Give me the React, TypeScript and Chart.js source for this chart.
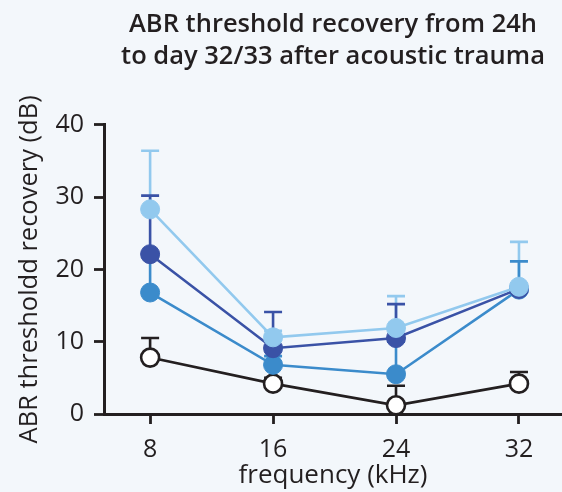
import React, { useEffect, useRef } from "react";
import { Chart, registerables } from "chart.js";

Chart.register(...registerables);

const categories = [8, 16, 24, 32];
const yTicks = [0, 10, 20, 30, 40];

const lightValues = [28.3, 10.6, 11.9, 17.6];
const lightUpper = [36.4, 11.5, 16.3, 23.8];
const darkValues = [22.1, 9.1, 10.5, 17.3];
const darkUpper = [30.2, 14.1, 15.2, 17.8];
const mediumValues = [16.8, 6.8, 5.5, 17.2];
const mediumUpper = [21.8, 8.0, 10.0, 21.1];
const controlValues = [7.8, 4.2, 1.2, 4.2];
const controlUpper = [10.5, 5.0, 3.9, 5.8];

const LIGHT = "#92c9ee";
const DARK = "#3a52a6";
const MEDIUM = "#3b8bcb";
const BLACK = "#231f20";
const BG = "#f3f7fb";
const FONT = "'Open Sans', 'Noto Sans', sans-serif";

const errorBarPlugin = {
  id: "errorBars",
  beforeDatasetsDraw(chart: any) {
    const ctx = chart.ctx;
    const xs = chart.scales.x;
    const ys = chart.scales.y;
    const order = [0, 2, 1, 3];
    ctx.save();
    order.forEach((di) => {
      const ds = chart.data.datasets[di];
      const uppers: number[] = ds.upper;
      ctx.strokeStyle = ds.errColor;
      ctx.lineWidth = 2.6;
      ds.data.forEach((p: any, i: number) => {
        const x = xs.getPixelForValue(p.x);
        const y0 = ys.getPixelForValue(p.y);
        const y1 = ys.getPixelForValue(uppers[i]);
        ctx.beginPath();
        ctx.moveTo(x, y0);
        ctx.lineTo(x, y1);
        ctx.moveTo(x - 9, y1);
        ctx.lineTo(x + 9, y1);
        ctx.stroke();
      });
    });
    ctx.restore();
  },
};

function mk(values: number[]) {
  return categories.map((c, i) => ({ x: c, y: values[i] }));
}

export default function App() {
  const ref = useRef<HTMLCanvasElement>(null);
  useEffect(() => {
    if (!ref.current) return;
    const chart = new Chart(ref.current, {
      type: "line",
      data: {
        datasets: [
          {
            label: "light",
            data: mk(lightValues),
            upper: lightUpper,
            errColor: LIGHT,
            borderColor: LIGHT,
            backgroundColor: LIGHT,
            pointBackgroundColor: LIGHT,
            pointBorderColor: LIGHT,
            borderWidth: 2.6,
            pointRadius: 9.5,
            pointBorderWidth: 1,
          },
          {
            label: "dark",
            data: mk(darkValues),
            upper: darkUpper,
            errColor: DARK,
            borderColor: DARK,
            backgroundColor: DARK,
            pointBackgroundColor: DARK,
            pointBorderColor: DARK,
            borderWidth: 2.6,
            pointRadius: 9.5,
            pointBorderWidth: 1,
          },
          {
            label: "medium",
            data: mk(mediumValues),
            upper: mediumUpper,
            errColor: MEDIUM,
            borderColor: MEDIUM,
            backgroundColor: MEDIUM,
            pointBackgroundColor: MEDIUM,
            pointBorderColor: MEDIUM,
            borderWidth: 2.6,
            pointRadius: 9.5,
            pointBorderWidth: 1,
          },
          {
            label: "control",
            data: mk(controlValues),
            upper: controlUpper,
            errColor: BLACK,
            borderColor: BLACK,
            backgroundColor: "#ffffff",
            pointBackgroundColor: "#ffffff",
            pointBorderColor: BLACK,
            borderWidth: 2.6,
            pointRadius: 9,
            pointBorderWidth: 2.6,
          },
        ] as any,
      },
      options: {
        animation: false,
        responsive: false,
        maintainAspectRatio: false,
        layout: { padding: 0, autoPadding: false },
        plugins: {
          legend: { display: false },
          tooltip: { enabled: false },
          title: {
            display: true,
            fullSize: false,
            text: ["ABR threshold recovery from 24h", "to day 32/33 after acoustic trauma"],
            color: BLACK,
            font: { family: FONT, size: 25.5, weight: 600, lineHeight: 1.25 },
            padding: { top: 9, bottom: 52 },
          },
        },
        scales: {
          x: {
            type: "linear",
            min: 5,
            max: 34.8,
            afterBuildTicks: (s: any) => {
              s.ticks = categories.map((v) => ({ value: v }));
            },
            afterFit: (s: any) => {
              s.height = 78;
              s.paddingRight = 0;
              s.paddingLeft = 0;
            },
            ticks: {
              color: BLACK,
              font: { family: FONT, size: 25 },
              padding: 11,
            },
            grid: {
              drawOnChartArea: false,
              drawTicks: true,
              tickLength: 10,
              tickWidth: 2.8,
              tickColor: BLACK,
            },
            border: { color: BLACK, width: 3 },
            title: {
              display: true,
              text: "frequency (kHz)",
              color: BLACK,
              font: { family: FONT, size: 26 },
              padding: { top: 0, bottom: 1 },
            },
          },
          y: {
            type: "linear",
            min: 0,
            max: 40,
            afterBuildTicks: (s: any) => {
              s.ticks = yTicks.map((v) => ({ value: v }));
            },
            afterFit: (s: any) => {
              s.width = 104;
            },
            ticks: {
              color: BLACK,
              font: { family: FONT, size: 25 },
              padding: 10,
            },
            grid: {
              drawOnChartArea: false,
              drawTicks: true,
              tickLength: 10,
              tickWidth: 2.8,
              tickColor: BLACK,
            },
            border: { color: BLACK, width: 3 },
            title: {
              display: true,
              text: "ABR thresholdd recovery (dB)",
              color: BLACK,
              font: { family: FONT, size: 25.5 },
              padding: { top: 14, bottom: 0 },
            },
          },
        },
      },
      plugins: [errorBarPlugin],
    } as any);
    return () => chart.destroy();
  }, []);
  return (
    <div style={{ position: "fixed", left: 0, top: 0, width: 562, height: 492, background: BG }}>
      <canvas ref={ref} width={562} height={492} style={{ display: "block" }} />
    </div>
  );
}
